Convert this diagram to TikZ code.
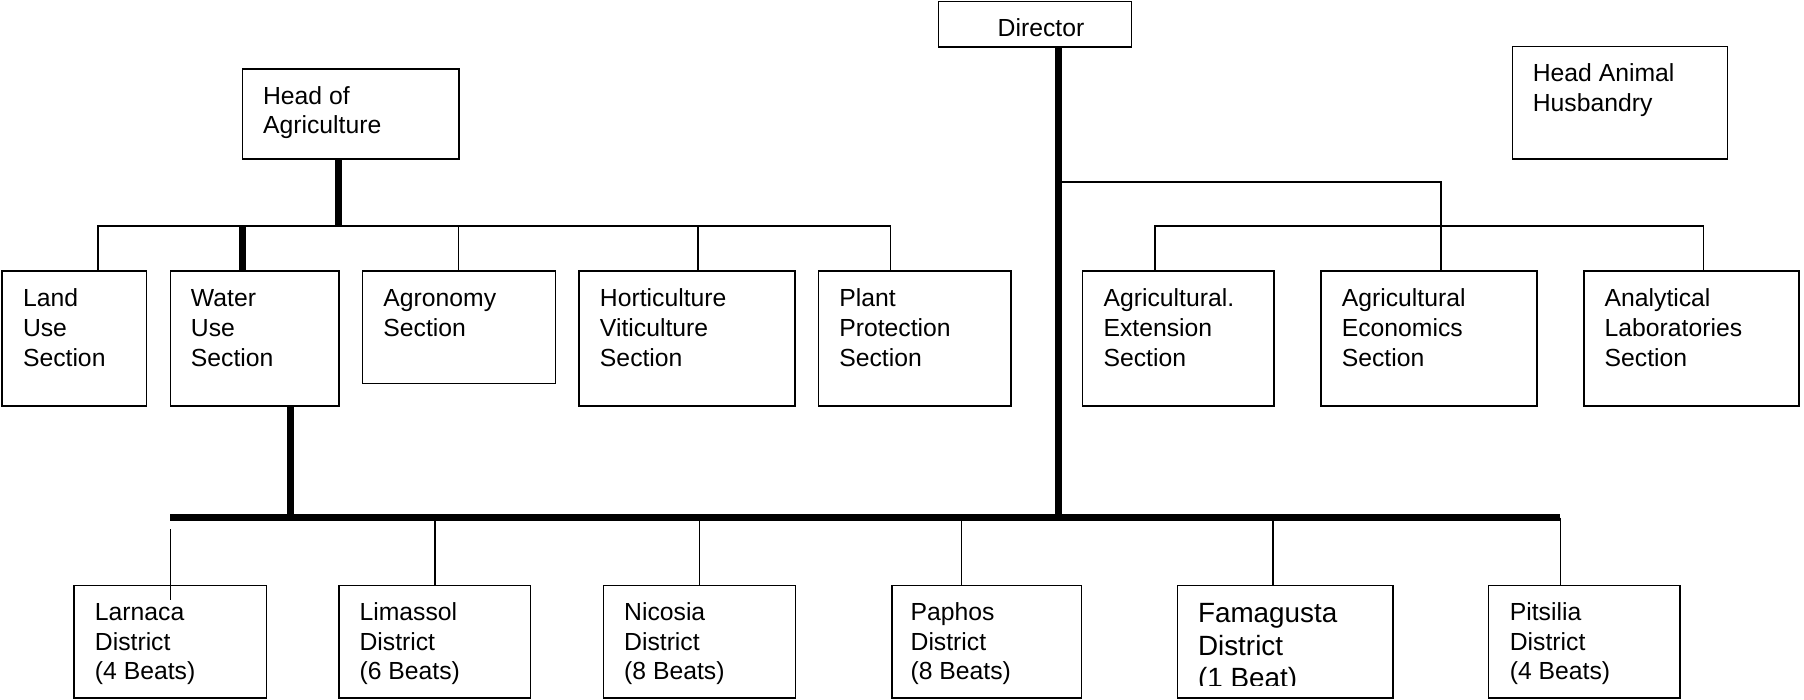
\documentclass[tikz,border=0pt]{standalone}
\usepackage{fontspec}
\setmainfont{Liberation Sans}
\newcommand\stk[1]{\vtop{\halign{##\hfil\cr#1\crcr}}}
\begin{document}
\begin{tikzpicture}[x=1pt,y=-1pt,
  box/.style={draw, line width=1.3pt, inner sep=0pt, outer sep=0pt, anchor=north west},
  lbl/.style={anchor=base west, inner sep=0pt, outer sep=0pt, font=\fontsize{21.5}{26}\selectfont},
  biglbl/.style={anchor=base west, inner sep=0pt, outer sep=0pt, font=\fontsize{24.2}{28.4}\selectfont},
  conn/.style={line width=1.3pt},
  bar/.style={line width=6pt}]
\useasboundingbox (0,0) rectangle (1568,608);
% ---- boxes
\node[box, minimum width=167.7pt, minimum height=39.5pt] (dir) at (815.8,1.4) {};
\node[lbl] (dirt) at ([shift={(51.4,30.5)}]dir.north west) {Director};
\node[box, minimum width=188.3pt, minimum height=78.2pt] (hoa) at (210.7,60) {};
\node[lbl] (hoat) at ([shift={(18,30.4)}]hoa.north west) {\stk{Head of\cr Agriculture}};
\node[box, minimum width=187pt, minimum height=97.6pt] (hah) at (1314.7,40.6) {};
\node[lbl] (haht) at ([shift={(17.6,30.4)}]hah.north west) {\stk{Head Animal\cr Husbandry}};
% sections
\node[box, minimum width=125.6pt, minimum height=117.3pt] (land) at (1.7,235.6) {};
\node[lbl] (landt) at ([shift={(18.3,31)}]land.north west) {\stk{Land\cr Use\cr Section}};
\node[box, minimum width=146.7pt, minimum height=117.3pt] (water) at (148,235.6) {};
\node[lbl] (watert) at ([shift={(18,31)}]water.north west) {\stk{Water\cr Use\cr Section}};
\node[box, minimum width=167.7pt, minimum height=97.9pt] (agro) at (315,235.6) {};
\node[lbl] (agrot) at ([shift={(18.3,31)}]agro.north west) {\stk{Agronomy\cr Section}};
\node[box, minimum width=187.5pt, minimum height=117.3pt] (hort) at (503.3,235.6) {};
\node[lbl] (hortt) at ([shift={(18.2,31)}]hort.north west) {\stk{Horticulture\cr Viticulture\cr Section}};
\node[box, minimum width=167.6pt, minimum height=117.3pt] (plant) at (711.2,235.6) {};
\node[lbl] (plantt) at ([shift={(18.3,31)}]plant.north west) {\stk{Plant\cr Protection\cr Section}};
\node[box, minimum width=166.5pt, minimum height=117.3pt] (ext) at (940.8,235.6) {};
\node[lbl] (extt) at ([shift={(18.4,31)}]ext.north west) {\stk{Agricultural.\cr Extension\cr Section}};
\node[box, minimum width=187.4pt, minimum height=117.3pt] (econ) at (1148.3,235.6) {};
\node[lbl] (econt) at ([shift={(18,31)}]econ.north west) {\stk{Agricultural\cr Economics\cr Section}};
\node[box, minimum width=187pt, minimum height=117.3pt] (anal) at (1376.7,235.6) {};
\node[lbl] (analt) at ([shift={(18,31)}]anal.north west) {\stk{Analytical\cr Laboratories\cr Section}};
% districts
\node[box, minimum width=167pt, minimum height=97.6pt] (lar) at (64.5,508.9) {};
\node[lbl] (lart) at ([shift={(18,30.1)}]lar.north west) {\stk{Larnaca\cr District\cr (4 Beats)}};
\node[box, minimum width=166.5pt, minimum height=97.6pt] (lim) at (294.5,508.9) {};
\node[lbl] (limt) at ([shift={(18,30.1)}]lim.north west) {\stk{Limassol\cr District\cr (6 Beats)}};
\node[box, minimum width=167pt, minimum height=97.6pt] (nic) at (524.5,508.9) {};
\node[lbl] (nict) at ([shift={(18,30.1)}]nic.north west) {\stk{Nicosia\cr District\cr (8 Beats)}};
\node[box, minimum width=164.3pt, minimum height=97.6pt] (pap) at (775.5,508.9) {};
\node[lbl] (papt) at ([shift={(16,30.1)}]pap.north west) {\stk{Paphos\cr District\cr (8 Beats)}};
\node[box, minimum width=187.5pt, minimum height=97.6pt] (fam) at (1023.3,508.9) {};
\begin{scope}
\clip (fam.north west) rectangle ([yshift=11pt]fam.south east);
\node[biglbl] (famt) at ([shift={(18,32.1)}]fam.north west) {\stk{Famagusta\cr District\cr (1 Beat)}};
\end{scope}
\node[box, minimum width=166.5pt, minimum height=97.6pt] (pit) at (1293.8,508.9) {};
\node[lbl] (pitt) at ([shift={(18.5,30.1)}]pit.north west) {\stk{Pitsilia\cr District\cr (4 Beats)}};
% ---- connectors, left tree
\coordinate (ha) at (294.3,196.4);
\coordinate (hl) at (85.3,196.4);
\coordinate (hr) at (773.8,196.4);
\coordinate (wa) at (210.7,196.4);
\coordinate (da) at (398.7,196.4);
\coordinate (dh) at (606.8,196.4);
\draw[bar] (hoa.south -| ha) -- (ha);
\draw[conn] (land.north -| hl) |- (hr) -- (hr |- plant.north);
\draw[bar] (wa) -- (wa |- water.north);
\draw[conn] (da) -- (da |- agro.north);
\draw[conn] (dh) -- (dh |- hort.north);
% ---- director tree
\coordinate (dv) at (920.2,450);
\coordinate (de) at (920.2,158);
\coordinate (ec) at (1252.3,158);
\coordinate (rl) at (1003.8,196.4);
\coordinate (rr) at (1480.7,196.4);
\draw[bar] (dir.south -| dv) -- (dv);
\draw[conn] (de) -- (ec) -- (ec |- econ.north);
\draw[conn] (ext.north -| rl) |- (rr) -- (rr |- anal.north);
% ---- districts bar
\coordinate (bl) at (148,450);
\coordinate (br) at (1356.3,450);
\coordinate (wb) at (252.5,450);
\draw[bar] (bl) -- (br);
\draw[bar] (water.south -| wb) -- (wb);
\coordinate (lt) at (148,460);
\coordinate (lb) at (148,521.6);
\draw[conn] (lt) -- (lb);
\coordinate (b2) at (378,450);
\coordinate (b3) at (608,450);
\coordinate (b4) at (835.8,450);
\coordinate (b5) at (1106.3,450);
\draw[conn] (b2) -- (b2 |- lim.north);
\draw[conn] (b3) -- (b3 |- nic.north);
\draw[conn] (b4) -- (b4 |- pap.north);
\draw[conn] (b5) -- (b5 |- fam.north);
\draw[conn] (br) -- (br |- pit.north);
\end{tikzpicture}
\end{document}
